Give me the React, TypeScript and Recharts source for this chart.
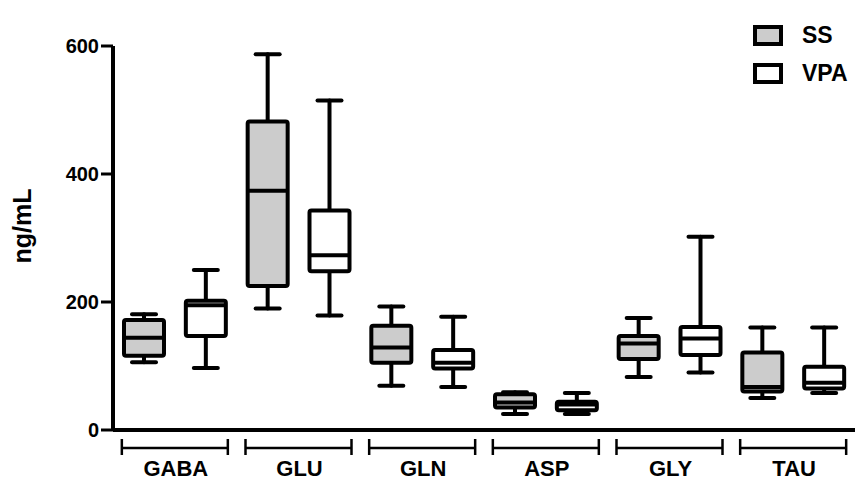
import { Bar, ComposedChart, XAxis, YAxis } from 'recharts'

const groups = ['GABA', 'GLU', 'GLN', 'ASP', 'GLY', 'TAU']
const seriesNames = ['SS', 'VPA']

// five-number summaries (ng/mL)
const ssMin = [106, 190, 69, 25, 83, 50]
const ssQ1 = [116, 225, 105, 35, 111, 60]
const ssMed = [144, 374, 129, 43, 135, 67]
const ssQ3 = [172, 482, 163, 56, 147, 121]
const ssMax = [181, 587, 193, 59, 175, 160]

const vpaMin = [97, 179, 67, 25, 90, 58]
const vpaQ1 = [147, 248, 96, 31, 117, 65]
const vpaMed = [195, 273, 105, 40, 143, 74]
const vpaQ3 = [202, 343, 125, 44, 161, 99]
const vpaMax = [250, 515, 177, 58, 302, 160]

const yTicks = [0, 200, 400, 600]

const FONT = '"Liberation Sans", Arial, Helvetica, sans-serif'
const SS_FILL = '#cccccc'
const VPA_FILL = '#ffffff'

type Row = {
  key: string
  group: string
  series: string
  min: number
  q1: number
  med: number
  q3: number
  max: number
}

const rows: Row[] = groups.flatMap((g, i) => [
  { key: `${g}-SS`, group: g, series: 'SS', min: ssMin[i], q1: ssQ1[i], med: ssMed[i], q3: ssQ3[i], max: ssMax[i] },
  { key: `${g}-VPA`, group: g, series: 'VPA', min: vpaMin[i], q1: vpaQ1[i], med: vpaMed[i], q3: vpaQ3[i], max: vpaMax[i] },
])

// the bar spans min..max; inner positions come from the same linear scale
function BoxShape(props: any) {
  const { x, y, width, height, payload } = props
  if (!payload) return null
  const p = payload as Row
  const px = (v: number) => y + (height * (p.max - v)) / (p.max - p.min)
  const cx = x + width / 2
  const cap = 12
  const fill = p.series === 'SS' ? SS_FILL : VPA_FILL
  return (
    <g stroke="#000" strokeWidth={4} strokeLinecap="round">
      <line x1={cx} x2={cx} y1={px(p.max)} y2={px(p.q3)} />
      <line x1={cx} x2={cx} y1={px(p.q1)} y2={px(p.min)} />
      <line x1={cx - cap} x2={cx + cap} y1={px(p.max)} y2={px(p.max)} />
      <line x1={cx - cap} x2={cx + cap} y1={px(p.min)} y2={px(p.min)} />
      <rect x={x} y={px(p.q3)} width={width} height={px(p.q1) - px(p.q3)} fill={fill} rx={2} />
      <line x1={x} x2={x + width} y1={px(p.med)} y2={px(p.med)} strokeLinecap="butt" />
    </g>
  )
}

function GroupTick(props: any) {
  const { x, y, payload } = props
  const half = 53
  return (
    <g>
      <g stroke="#000" strokeWidth={2.5}>
        <line x1={x - half} x2={x + half} y1={y + 14} y2={y + 14} />
        <line x1={x - half} x2={x - half} y1={y + 5} y2={y + 21} />
        <line x1={x + half} x2={x + half} y1={y + 5} y2={y + 21} />
      </g>
      <text x={x + 1} y={y + 42} textAnchor="middle" fontFamily={FONT} fontWeight="bold" fontSize={22} fill="#000">
        {payload.value}
      </text>
    </g>
  )
}

function YLabel(props: any) {
  const vb = props.viewBox || { x: 0, y: 46, width: 113, height: 384 }
  const lx = vb.x + 31
  const ly = vb.y + vb.height / 2 - 12
  return (
    <text
      x={lx}
      y={ly}
      transform={`rotate(-90, ${lx}, ${ly})`}
      textAnchor="middle"
      fontFamily={FONT}
      fontWeight="bold"
      fontSize={25}
      fill="#000"
    >
      ng/mL
    </text>
  )
}

export default function App() {
  return (
    <div style={{ position: 'absolute', left: 0, top: 0, width: 858, height: 482, background: '#fff' }}>
      <ComposedChart width={858} height={482} data={rows} margin={{ top: 46, right: 3, bottom: 0, left: 0 }}>
        <XAxis
          xAxisId="box"
          dataKey="key"
          tick={false}
          tickLine={false}
          axisLine={{ stroke: '#000', strokeWidth: 4 }}
          height={4}
        />
        <XAxis
          xAxisId="grp"
          dataKey="group"
          allowDuplicatedCategory={false}
          axisLine={false}
          tickLine={false}
          tickSize={0}
          tickMargin={0}
          height={48}
          interval={0}
          tick={<GroupTick />}
        />
        <YAxis
          width={113}
          domain={[0, 600]}
          ticks={yTicks}
          interval={0}
          axisLine={{ stroke: '#000', strokeWidth: 4 }}
          tickLine={{ stroke: '#000', strokeWidth: 3 }}
          tickSize={12}
          tickMargin={2}
          tick={{ fill: '#000', fontSize: 20, fontWeight: 'bold', fontFamily: FONT }}
          label={<YLabel />}
        />
        <Bar
          xAxisId="box"
          dataKey={(d: Row) => [d.min, d.max]}
          barSize={40}
          shape={<BoxShape />}
          isAnimationActive={false}
        />
      </ComposedChart>
      <div style={{ position: 'absolute', left: 753, top: 24, fontFamily: FONT, fontWeight: 'bold', fontSize: 23 }}>
        {seriesNames.map((name, i) => (
          <div key={name} style={{ display: 'flex', alignItems: 'center', height: 22, marginBottom: i === 0 ? 16 : 0 }}>
            <div
              style={{
                width: 22,
                height: 13,
                border: '4px solid #000',
                background: name === 'SS' ? SS_FILL : VPA_FILL,
              }}
            />
            <span style={{ marginLeft: 19, lineHeight: '22px' }}>{name}</span>
          </div>
        ))}
      </div>
    </div>
  )
}
